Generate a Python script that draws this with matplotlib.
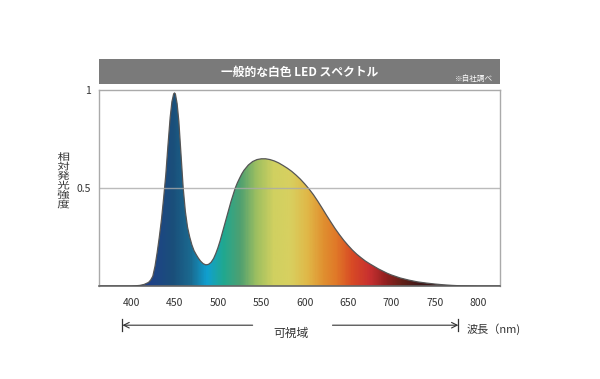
import numpy as np
import matplotlib
matplotlib.use('Agg')
import matplotlib.pyplot as plt
from matplotlib.colors import LinearSegmentedColormap
from matplotlib.patches import Polygon, Rectangle, PathPatch
from matplotlib.textpath import TextPath
from matplotlib.font_manager import FontProperties
import matplotlib.transforms as mtransforms

plt.rcParams['font.family'] = ['Noto Sans CJK JP', 'DejaVu Sans']

# スペクトル (波長 nm / 相対強度)
wavelength = [365, 400, 405, 410, 415, 420, 422.5, 425, 427.5, 430, 432.5, 435,
              437.5, 440, 442.5, 445, 447, 449, 450, 451, 453, 455, 457.5, 460,
              462.5, 465, 467.5, 470, 472.5, 475, 477.5, 480, 483, 486, 489,
              492, 495, 497.5, 500, 502.5, 505, 507.5, 510, 512.5, 515, 517.5,
              520, 522.5, 525, 527.5, 530, 535, 540, 545, 550, 555, 560, 565,
              570, 575, 580, 585, 590, 595, 600, 605, 610, 615, 620, 625, 630,
              635, 640, 645, 650, 655, 660, 665, 670, 675, 680, 685, 690, 695,
              700, 710, 720, 730, 740, 750, 760, 770, 780, 800, 825]
intensity = [0.0, 0.0, 0.001, 0.003, 0.008, 0.018, 0.03, 0.05, 0.1, 0.17, 0.25,
             0.34, 0.45, 0.57, 0.72, 0.86, 0.94, 0.98, 0.985, 0.98, 0.93, 0.84,
             0.67, 0.5, 0.38, 0.3, 0.25, 0.21, 0.18, 0.16, 0.142, 0.127, 0.114,
             0.108, 0.11, 0.12, 0.14, 0.165, 0.195, 0.23, 0.27, 0.31, 0.35,
             0.39, 0.43, 0.465, 0.5, 0.527, 0.55, 0.572, 0.59, 0.617, 0.635,
             0.645, 0.649, 0.649, 0.645, 0.638, 0.628, 0.615, 0.601, 0.585,
             0.566, 0.545, 0.521, 0.495, 0.466, 0.433, 0.398, 0.362, 0.327,
             0.293, 0.262, 0.233, 0.207, 0.183, 0.162, 0.144, 0.127, 0.113,
             0.1, 0.087, 0.076, 0.065, 0.056, 0.041, 0.03, 0.021, 0.015, 0.01,
             0.006, 0.003, 0.001, 0.0, 0.0]

# グラデーションの色 (波長ごと)
color_wl = [363, 416, 448, 468, 487, 506, 526, 545, 564, 583, 603, 622, 637,
            655, 675, 695, 714, 733, 825]
color_hex = ['#1f3f8a', '#1f3f8a', '#1a4f7a', '#1a6a90', '#10a0d0', '#20a890',
             '#50a070', '#a0c060', '#d0d060', '#d8d060', '#e0b848', '#e09030',
             '#e07828', '#d84a25', '#c83030', '#902020', '#602018', '#401818',
             '#301515']

x_ticks = [400, 450, 500, 550, 600, 650, 700, 750, 800]
y_ticks = [0.5, 1]
y_ticklabels = ['0.5', '1']
visible_range = [390, 777]
ylabel_text = '相対発光強度'

XMIN, XMAX = 363, 825
W, H = 600, 379

fig = plt.figure(figsize=(6.0, 3.79), dpi=100)
ax = fig.add_axes([99/W, 1-286/H, 401/W, 196/H])
ax.set_xlim(XMIN, XMAX)
ax.set_ylim(0, 1.0)

# カラーマップ
pos = [min(1.0, max(0.0, (w - XMIN) / (XMAX - XMIN))) for w in color_wl]
pos[0], pos[-1] = 0.0, 1.0
cmap = LinearSegmentedColormap.from_list('spec', list(zip(pos, color_hex)))
grad = np.linspace(0, 1, 600).reshape(1, -1)
im = ax.imshow(grad, cmap=cmap, aspect='auto', extent=[XMIN, XMAX, 0, 1],
               origin='lower', zorder=1)
verts = list(zip(wavelength, intensity)) + [(wavelength[-1], 0), (wavelength[0], 0)]
poly = Polygon(verts, closed=True, facecolor='none', edgecolor='none')
ax.add_patch(poly)
im.set_clip_path(poly)
ax.plot(wavelength, intensity, color='#555555', lw=0.9, zorder=3,
        solid_joinstyle='round')

# 0.5 の線
ax.axhline(0.5, color='#aaaaaa', lw=1.0, alpha=0.8, zorder=4)

for s in ['top', 'left', 'right']:
    ax.spines[s].set_color('#aaaaaa')
    ax.spines[s].set_linewidth(1.0)
ax.spines['bottom'].set_color('#666666')
ax.spines['bottom'].set_linewidth(1.2)

ax.set_xticks(x_ticks)
ax.set_yticks(y_ticks)
ax.set_yticklabels(y_ticklabels)
ax.tick_params(length=0, labelsize=7.5, colors='#333333')
ax.tick_params(axis='x', pad=9)
ax.tick_params(axis='y', pad=6)

# 縦書きラベル (1文字ずつ、横にやや広げる)
fp = FontProperties(family='Noto Sans CJK JP')
for i, ch in enumerate(ylabel_text):
    tp = TextPath((0, 0), ch, size=10, prop=fp)
    bb = tp.get_extents()
    cx, cy = (bb.x0 + bb.x1) / 2, (bb.y0 + bb.y1) / 2
    yc = H - (156.5 + i * 9.5)
    tr = mtransforms.Affine2D().translate(-cx, -cy).scale(1.25, 0.95).translate(63.5, yc)
    fig.add_artist(PathPatch(tp, transform=tr, facecolor='#333333',
                             edgecolor='none'))

# タイトルバー
fig.patches.append(Rectangle((99/W, 1-84/H), 401/W, 25/H,
                             transform=fig.transFigure, facecolor='#7a7a7a',
                             edgecolor='none'))
fig.text(300/W, 1-72/H, '一般的な白色 LED スペクトル', fontsize=8.5,
         fontweight='bold', color='white', ha='center', va='center')
fig.text(493/W, 1-79/H, '※自社調べ', fontsize=5.5, color='white',
         ha='right', va='center')

# 可視域の矢印
trans = mtransforms.blended_transform_factory(ax.transData, ax.transAxes)
y_arr = -0.2
ax.annotate('', xy=(visible_range[0], y_arr), xytext=(540, y_arr),
            xycoords=trans, textcoords=trans,
            arrowprops=dict(arrowstyle='->', color='#333333', lw=0.8,
                            shrinkA=0, shrinkB=0, mutation_scale=10))
ax.annotate('', xy=(visible_range[1], y_arr), xytext=(632, y_arr),
            xycoords=trans, textcoords=trans,
            arrowprops=dict(arrowstyle='->', color='#333333', lw=0.8,
                            shrinkA=0, shrinkB=0, mutation_scale=10))
for v in visible_range:
    ax.plot([v, v], [y_arr - 0.03, y_arr + 0.03], color='#333333', lw=0.9,
            transform=trans, clip_on=False)
ax.text(584, y_arr - 0.04, '可視域', transform=trans, fontsize=8.5,
        color='#333333', ha='center', va='center')
ax.text(786, y_arr - 0.02, '波長（nm)', transform=trans, fontsize=8,
        color='#333333', ha='left', va='center')

fig.savefig('out.png', dpi=100)
